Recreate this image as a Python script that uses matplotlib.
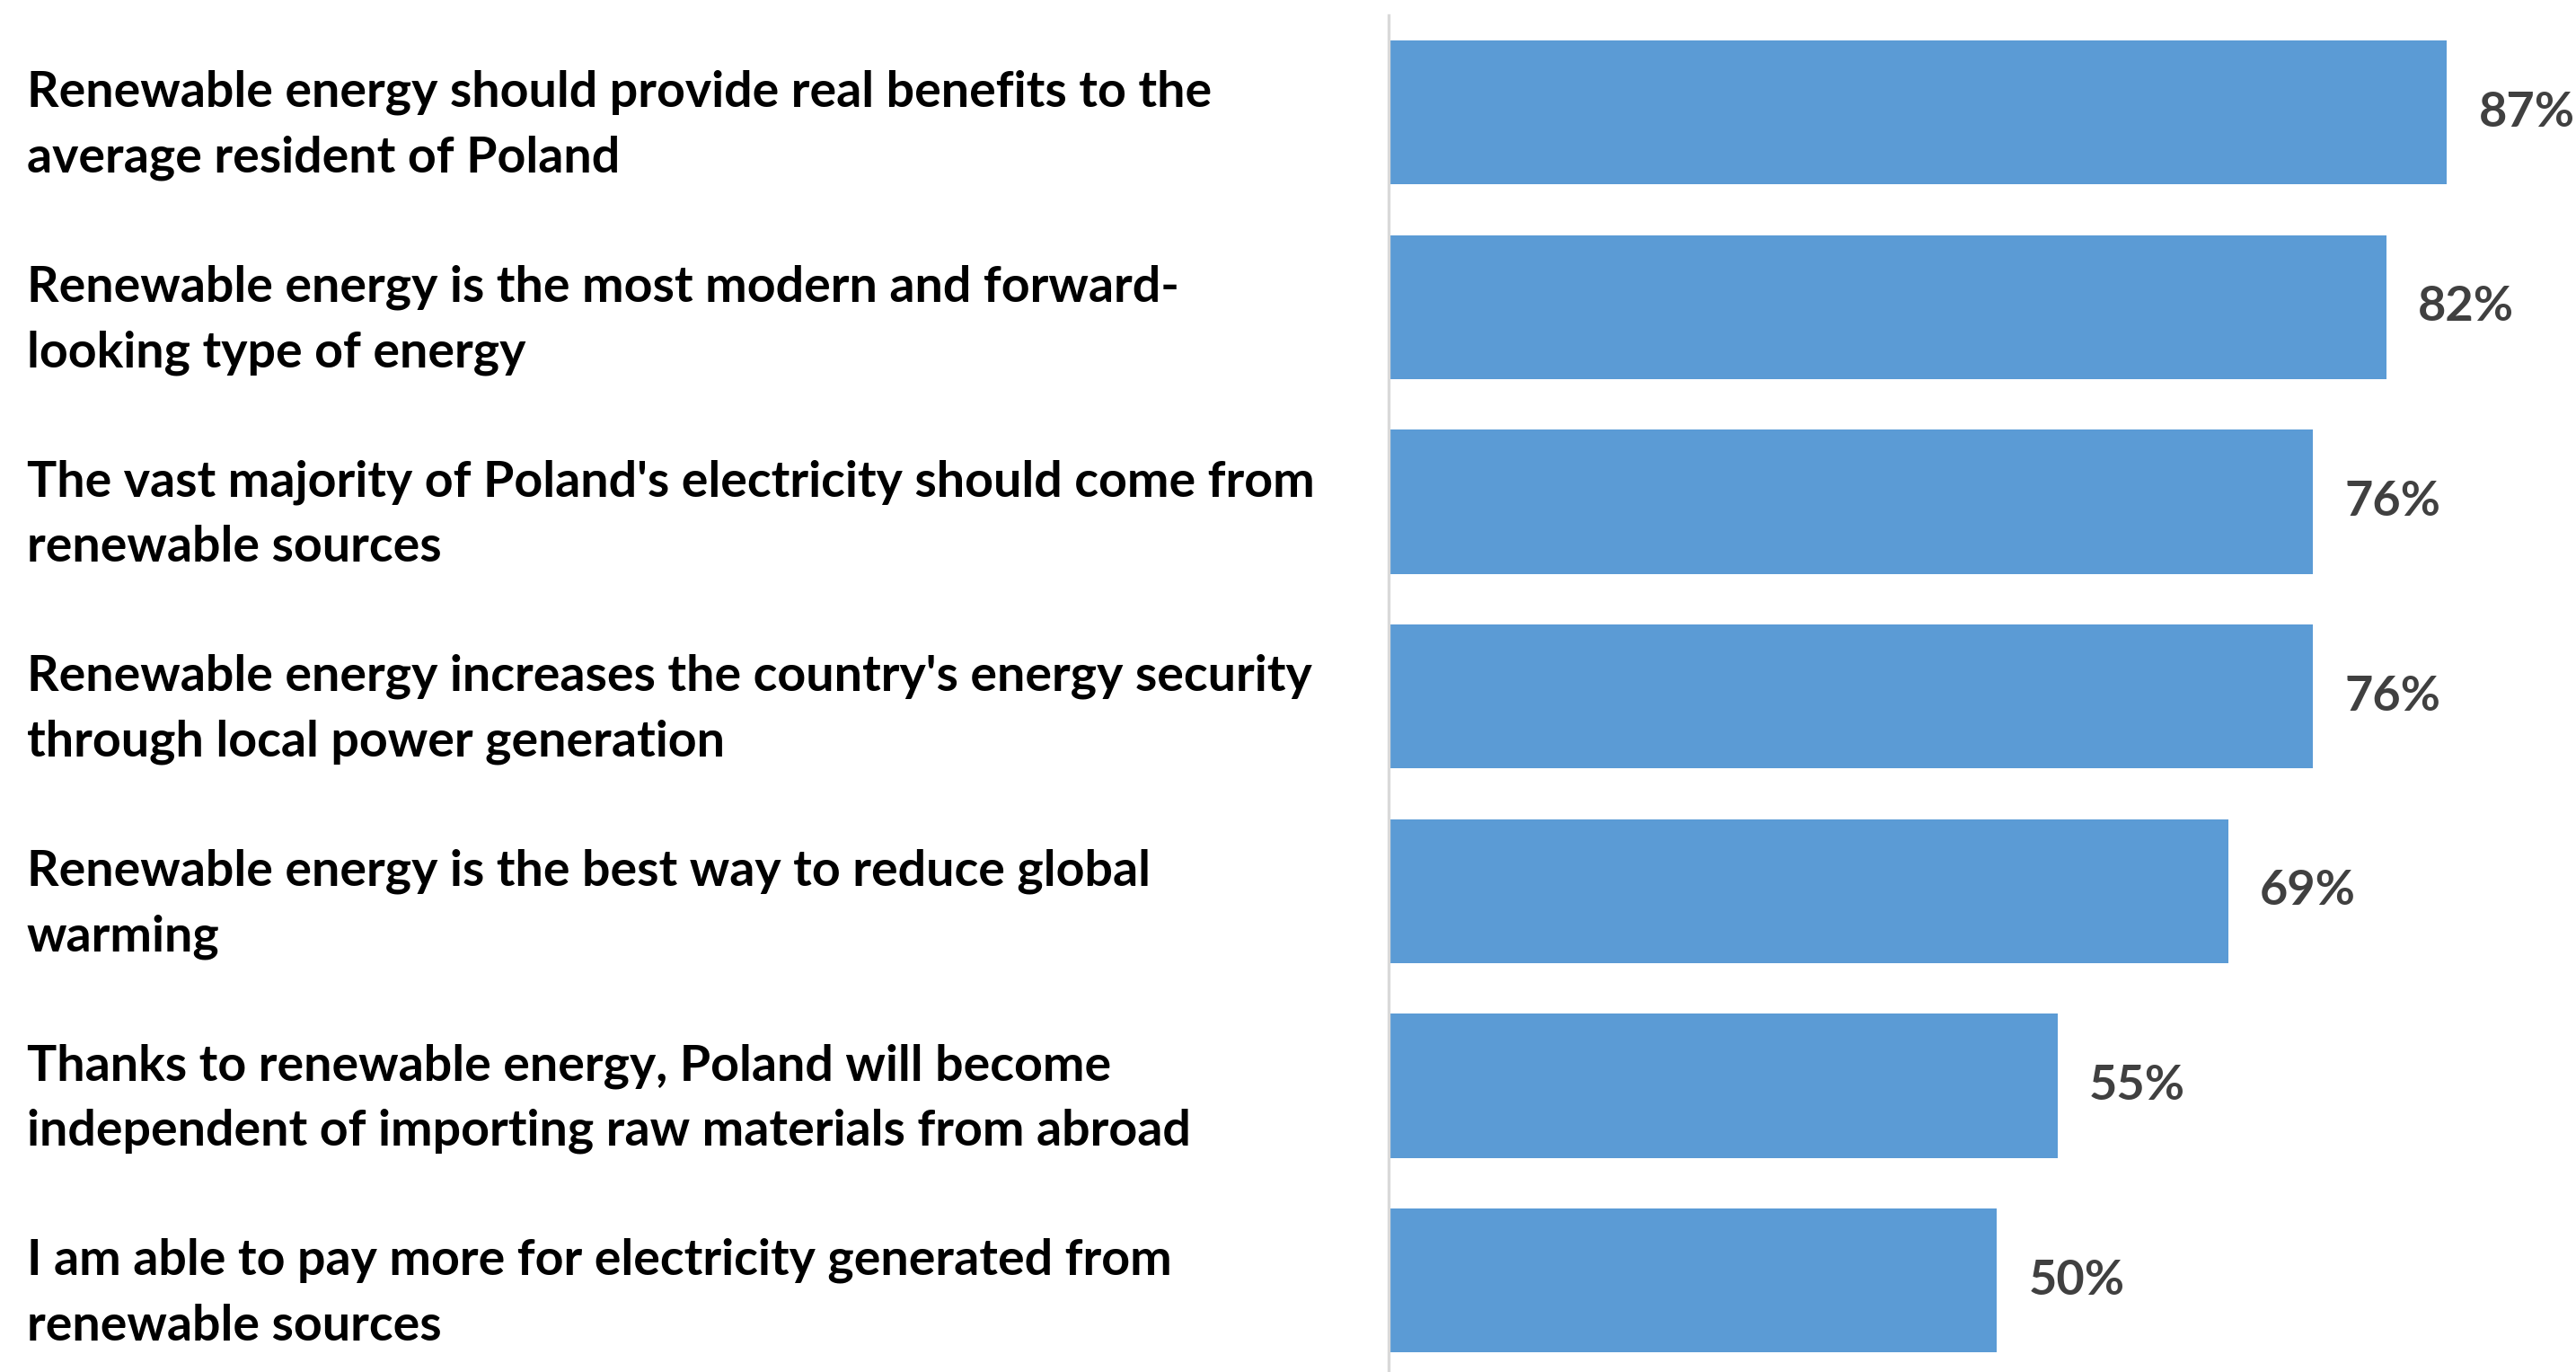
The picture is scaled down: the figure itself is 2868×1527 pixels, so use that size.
import matplotlib.pyplot as plt
from matplotlib.transforms import blended_transform_factory

statements = [
    "Renewable energy should provide real benefits to the\naverage resident of Poland",
    "Renewable energy is the most modern and forward-\nlooking type of energy",
    "The vast majority of Poland's electricity should come from\nrenewable sources",
    "Renewable energy increases the country's energy security\nthrough local power generation",
    "Renewable energy is the best way to reduce global\nwarming",
    "Thanks to renewable energy, Poland will become\nindependent of importing raw materials from abroad",
    "I am able to pay more for electricity generated from\nrenewable sources",
]
shares = [87, 82, 76, 76, 69, 55, 50]

plt.rcParams['font.family'] = ['Lato', 'DejaVu Sans']

fig = plt.figure(figsize=(14.34, 7.635), dpi=200)
ax = fig.add_axes([0.539, 0.0, 0.461, 0.9889])

pos = list(range(len(shares)))
ax.barh(pos, shares, height=0.74, color='#5B9BD5')

for y, v in zip(pos, shares):
    ax.text(v + 2.6, y, f"{v}%", va='center', ha='left',
            fontsize=19.5, fontweight='bold', color='#404040')

trans = blended_transform_factory(fig.transFigure, ax.transData)
for y, s in zip(pos, statements):
    ax.text(0.0103, y + 0.065, s, transform=trans, va='center', ha='left',
            fontsize=20, fontweight='bold', color='black', linespacing=1.54,
            clip_on=False)

ax.set_xlim(0, 97.6)
ax.set_ylim(6.47, -0.5)
for side in ['top', 'right', 'bottom']:
    ax.spines[side].set_visible(False)
ax.spines['left'].set_color('#D9D9D9')
ax.spines['left'].set_linewidth(1.2)
ax.set_xticks([])
ax.set_yticks([])

fig.savefig('out.png', dpi=200, facecolor='white')
